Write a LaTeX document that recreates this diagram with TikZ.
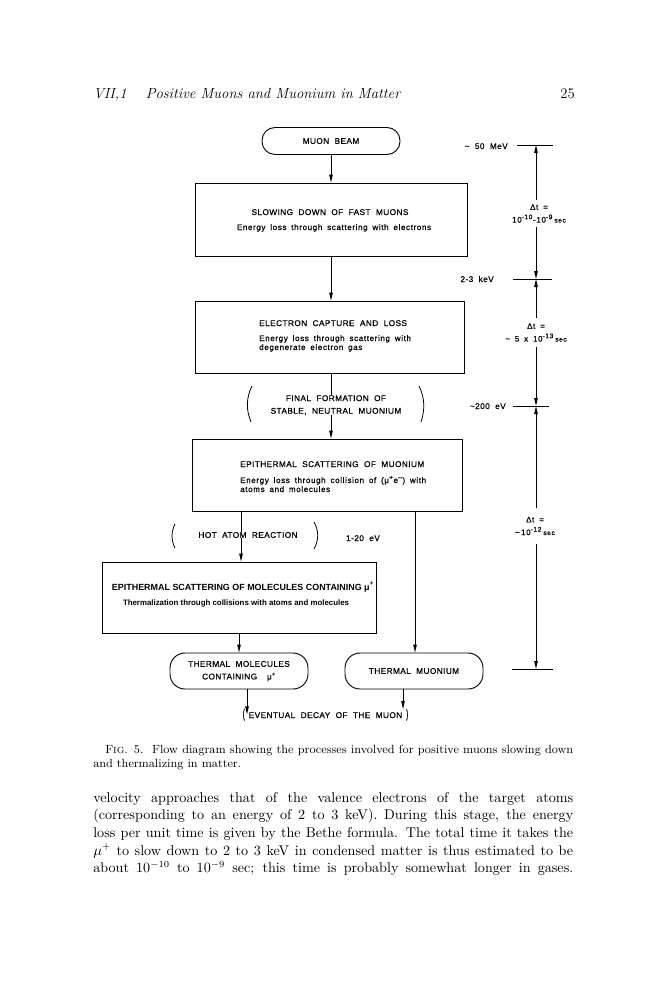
\documentclass[tikz,border=0pt]{standalone}
\usepackage{fontspec}
\usepackage{graphicx}
\usetikzlibrary{arrows.meta,calc}
\newfontfamily\dgcap[LetterSpace=5,WordSpace=2.0,FakeBold=0.6]{Liberation Sans}
\newfontfamily\dgsub[LetterSpace=8,WordSpace=1.7,FakeBold=0.6]{Liberation Sans}
\newfontfamily\dgplain{Liberation Sans}
\tikzset{
  ln/.style={line width=0.7pt},
  arr/.style={ln,-{Triangle[length=6pt,width=2.6pt]}},
  box/.style={draw,ln,inner sep=0pt},
  captxt/.style={font=\fontsize{6.2}{9.5}\dgcap,inner sep=0pt},
  subtxt/.style={font=\fontsize{6}{6.75}\dgsub,inner sep=0pt},
  bigtxt/.style={font=\fontsize{6.7}{7}\dgplain\bfseries,inner sep=0pt},
  bigsub/.style={font=\fontsize{5.9}{7}\dgplain\bfseries,inner sep=0pt},
  dttxt/.style={font=\fontsize{6}{9.5}\dgsub,inner sep=0pt,align=center},
  bodytxt/.style={anchor=base west,inner sep=0pt,font=\fontsize{10.6}{13}\selectfont},
  capttxt/.style={anchor=base west,inner sep=0pt,font=\fontsize{8.9}{10.5}\selectfont},
}
\begin{document}
\begin{tikzpicture}[x=0.75pt,y=-0.75pt]
\fill[white] (0,0) rectangle (655,1000);
\useasboundingbox (0,0) rectangle (655,1000);

% running head
\node[anchor=base west,inner sep=0pt,font=\fontsize{11}{13}\selectfont\itshape] (hdr) at (93,98) {VII,1\hspace{1.3em}Positive Muons and Muonium in Matter};
\node[anchor=base east,inner sep=0pt,font=\fontsize{11}{13}\selectfont] (pg) at (575,98) {25};

% flow diagram
\node[box,captxt,rounded corners={13*0.75pt},minimum width={138*0.75pt},minimum height={27*0.75pt}] (beam) at (331,141) {MUON BEAM};

\node[box,minimum width={272*0.75pt},minimum height={73*0.75pt}] (b1) at (331,219.5) {};
\node[captxt,anchor=base] (b1t) at (330,215) {SLOWING DOWN OF FAST MUONS};
\node[subtxt,anchor=base] (b1s) at (334,230) {Energy loss through scattering with electrons};

\node[box,minimum width={269*0.75pt},minimum height={72*0.75pt}] (b2) at (329.5,337) {};
\node[captxt,anchor=base west] (b2t) at (259,326) {ELECTRON CAPTURE AND LOSS};
\node[subtxt,anchor=base west] (b2s) at (259,341) {Energy loss through scattering with};
\node[subtxt,anchor=base west] (b2u) at (259,350) {degenerate electron gas};

\node[captxt,align=center] (fin) at (336,405) {FINAL FORMATION OF\\STABLE, NEUTRAL MUONIUM};
\draw[ln,line width=0.6pt] (252,386) .. controls (246,398) and (246,410) .. (251,422);
\draw[ln,line width=0.6pt] (419,386) .. controls (425,398) and (425,410) .. (421,422);

\node[box,minimum width={270*0.75pt},minimum height={72*0.75pt}] (b3) at (327,475) {};
\node[captxt,anchor=base west] (b3t) at (240,467) {EPITHERMAL SCATTERING OF MUONIUM};
\node[subtxt,anchor=base west] (b3s) at (240,483) {Energy loss through collision of (μ\textsuperscript{+}e\textsuperscript{–}) with};
\node[subtxt,anchor=base west] (b3u) at (240,492) {atoms and molecules};

\node[captxt] (hot) at (248,535) {HOT ATOM REACTION};
\draw[ln,line width=0.6pt] (175,524) .. controls (171,532) and (171,540) .. (175,548);
\draw[ln,line width=0.6pt] (314,522) .. controls (319,531) and (319,540) .. (314,549);
\node[captxt,anchor=base] (ev) at (363,541) {1-20 eV};

\node[box,minimum width={274*0.75pt},minimum height={71*0.75pt}] (b4) at (239,597.5) {};
\node[bigtxt,anchor=base] (b4t) at (243,590) {EPITHERMAL SCATTERING OF MOLECULES CONTAINING μ\textsuperscript{+}};
\node[bigsub,anchor=base] (b4s) at (236,605) {Thermalization through collisions with atoms and molecules};

\node[box,captxt,align=center,rounded corners={15*0.75pt},minimum width={138*0.75pt},minimum height={36*0.75pt}] (mol) at (239,671) {THERMAL MOLECULES\\CONTAINING\hspace{1.2em}μ\textsuperscript{+}};
\node[box,captxt,rounded corners={15*0.75pt},minimum width={138*0.75pt},minimum height={36*0.75pt}] (mu) at (414,671) {THERMAL MUONIUM};

\node[captxt,text height=4.5pt,text depth=0pt] (decay) at (325.5,715) {\scalebox{0.7}[1.5]{(}\hspace{3pt}EVENTUAL DECAY OF THE MUON\hspace{3pt}\scalebox{0.7}[1.5]{)}};

% connectors
\coordinate (cx) at (331,0);
\coordinate (hx) at (241,0);
\coordinate (rx) at (415,0);
\coordinate (lx) at (247,0);
\coordinate (rx2) at (403,0);
\draw[arr] (beam.south) -- (b1.north);
\draw[arr] (b1.south) -- (b1.south |- b2.north);
\draw[ln] (b2.south -| cx) -- (fin.north -| cx);
\draw[arr] (fin.south -| cx) -- (b3.north -| cx);
\draw[ln] (b3.south -| hx) -- (hot.north -| hx);
\draw[arr] (hot.south -| hx) -- (b4.north -| hx);
\draw[arr] (b3.south -| rx) -- (mu.north -| rx);
\draw[arr] (b4.south) -- (mol.north);
\draw[arr,shorten >=-2pt] (mol.south -| lx) -- (decay.north -| lx);
\draw[arr,shorten >=2pt] (mu.south -| rx2) -- (decay.north -| rx2);

% time / energy scale
\coordinate (t1) at (536,145);
\coordinate (t2) at (536,279);
\coordinate (t3) at (536,406);
\coordinate (t4) at (536,669);
\draw[ln] ($(t1)+(-19,0)$) -- ($(t1)+(17,0)$);
\draw[ln] ($(t2)+(-23,0)$) -- ($(t2)+(16,0)$);
\draw[ln] ($(t3)+(-23,0)$) -- ($(t3)+(13,0)$);
\draw[ln] ($(t4)+(-24,0)$) -- ($(t4)+(17,0)$);
\node[captxt,anchor=base east] (e1) at (508,149) {\textasciitilde\ 50 MeV};
\node[captxt,anchor=base east] (e2) at (494,282) {2-3 keV};
\node[captxt,anchor=base east] (e3) at (506,409) {\textasciitilde 200 eV};

\node[dttxt,minimum height={27*0.75pt}] (d1) at (539,213.5) {Δt =\\10\textsuperscript{-10}-10\textsuperscript{-9}\,{\tiny sec}};
\node[dttxt,minimum height={29*0.75pt}] (d2) at (536,332.5) {Δt =\\\textasciitilde\ 5 x 10\textsuperscript{-13}\,{\tiny sec}};
\node[dttxt,minimum height={35*0.75pt}] (d3) at (535,526) {Δt =\\\textasciitilde\,10\textsuperscript{-12}\,{\tiny sec}};
\draw[arr] (d1.north -| t1) -- (t1);
\draw[arr] (d1.south -| t1) -- (t2);
\draw[arr] (d2.north -| t2) -- (t2);
\draw[arr] (d2.south -| t2) -- (t3);
\draw[arr] (d3.north -| t3) -- (t3);
\draw[arr] (d3.south -| t3) -- (t4);

% caption
\node[capttxt] (c1) at (105,753) {\makebox[351pt][s]{F\textsc{ig}. 5.\ \ Flow diagram showing the processes involved for positive muons slowing down}};
\node[capttxt] (c2) at (93,767) {and thermalizing in matter.};

% body text
\node[bodytxt] (p1) at (93,802) {\makebox[360pt][s]{velocity approaches that of the valence electrons of the target atoms}};
\node[bodytxt] (p2) at (93,819.7) {\makebox[360pt][s]{(corresponding to an energy of 2 to 3 keV). During this stage, the energy}};
\node[bodytxt] (p3) at (93,837.3) {\makebox[360pt][s]{loss per unit time is given by the Bethe formula. The total time it takes the}};
\node[bodytxt] (p4) at (93,855) {\makebox[360pt][s]{$\mu^+$ to slow down to 2 to 3 keV in condensed matter is thus estimated to be}};
\node[bodytxt] (p5) at (93,872.7) {\makebox[360pt][s]{about 10$^{-10}$ to 10$^{-9}$ sec; this time is probably somewhat longer in gases.}};
\end{tikzpicture}
\end{document}
